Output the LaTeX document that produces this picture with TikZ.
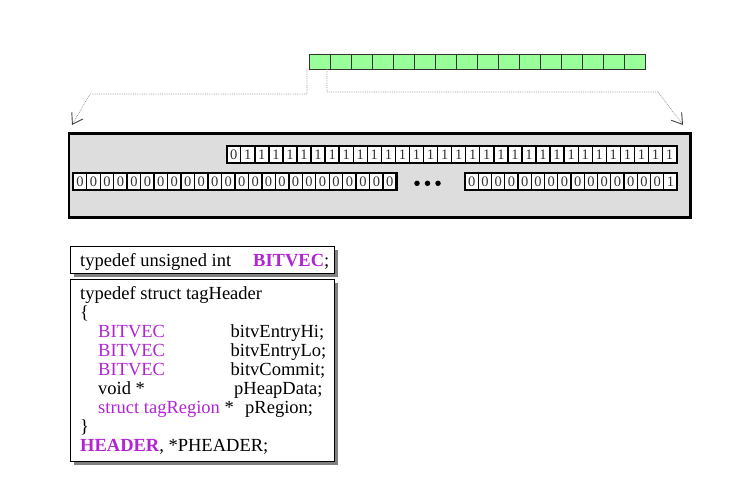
\documentclass[tikz,border=0pt]{standalone}
\usepackage{fontspec}
\setmainfont{Liberation Serif}
\usetikzlibrary{positioning,arrows.meta,calc,shadows}
\definecolor{vio}{RGB}{178,36,212}
\definecolor{cellgreen}{RGB}{153,255,153}
\definecolor{panelgray}{RGB}{221,221,221}

\begin{document}
\begin{tikzpicture}[x=1pt,y=-1pt,
  gcell/.style={draw=black!80,fill=cellgreen,line width=0.9pt,outer sep=0pt,inner sep=0pt,minimum width=21pt,minimum height=15pt},
  bitcell/.style={draw,fill=white,line width=1.4pt,outer sep=0pt,inner sep=0pt,minimum width=#1,minimum height=16.7pt,font=\fontsize{14.5}{14.5}\selectfont,text=black!80},
  row/.style={draw,line width=2.2pt},
  panel/.style={draw,line width=2.5pt,fill=panelgray,anchor=north west},
  dotmark/.style={circle,fill=black,inner sep=0pt,minimum size=5.5pt},
  link/.style={densely dotted,draw=black!40,line width=0.8pt,-{Straight Barb[length=10pt,width=13pt,color=black!75,line width=0.9pt]}},
  codebox/.style={draw,line width=1.2pt,fill=white,anchor=north west,minimum width=264pt,drop shadow={shadow xshift=3pt,shadow yshift=-3pt,fill=black!50,opacity=1}},
  code/.style={anchor=base west,inner sep=0pt,font=\fontsize{18.5}{19}\selectfont}]
  \useasboundingbox (0,0) rectangle (735,479);

  % green vector
  \node[gcell,anchor=north west] (g1) at (309,54) {};
  \foreach \i [remember=\i as \prev (initially 1)] in {2,...,16}
    \node[gcell,right=0pt of g\prev] (g\i) {};

  % dotted leads
  \coordinate (bendL) at (90,94);
  \coordinate (tipL) at (72,125);
  \coordinate (bendR) at (658,92);
  \coordinate (tipR) at (683,125);
  \draw[link] ($(g1.south west)+(-2,0)$) |- (bendL) -- (tipL);
  \draw[link] ($(g1.south east)+(-3,0)$) |- (bendR) -- (tipR);

  % bit panel
  \node[panel,minimum width=621.5pt,minimum height=84pt] (panel) at (67.5,132) {};

  \node[bitcell=14.06pt,anchor=north west] (t1) at (226.7,146) {0};
  \foreach \i [remember=\i as \prev (initially 1)] in {2,...,32}
    \node[bitcell=14.06pt,right=0pt of t\prev] (t\i) {1};
  \draw[row] (t1.north west) rectangle (t32.south east);

  \node[bitcell=13.47pt,anchor=north west] (a1) at (73.3,173.3) {0};
  \foreach \i [remember=\i as \prev (initially 1)] in {2,...,24}
    \node[bitcell=13.47pt,right=0pt of a\prev] (a\i) {0};
  \draw[row] (a1.north west) rectangle (a24.south east);

  \node[bitcell=13.25pt,anchor=north west] (b1) at (465,173.3) {0};
  \foreach \i [remember=\i as \prev (initially 1)] in {2,...,16}
    \node[bitcell=13.25pt,right=0pt of b\prev] (b\i) {\ifnum\i=16 1\else 0\fi};
  \draw[row] (b1.north west) rectangle (b16.south east);

  \foreach \k/\x in {1/417,2/427.5,3/438}
    \node[dotmark] (dot\k) at (\x,183.3) {};

  % typedef boxes
  \node[codebox,minimum height=27pt] (tdefbox) at (70,246) {};
  \node[code] (tdef) at (80,266.5) {typedef unsigned int};
  \node[code] (tname) at (253,266.5) {\textcolor{vio}{\bfseries BITVEC};};

  \node[codebox,minimum height=182pt] (hdrbox) at (70,279) {};
  \node[code] (hdr) at (80,299.5) {typedef struct tagHeader};
  \node[code] (lbr) at (80,318.3) {\{};
  \node[code,text=vio] (hi) at (98,337.3) {BITVEC};
  \node[code] (hiN) at (230.5,337.3) {bitvEntryHi;};
  \node[code,text=vio] (lo) at (98,356.3) {BITVEC};
  \node[code] (loN) at (230.5,356.3) {bitvEntryLo;};
  \node[code,text=vio] (cm) at (98,375.3) {BITVEC};
  \node[code] (cmN) at (230.5,375.3) {bitvCommit;};
  \node[code] (heap) at (98,394.3) {void *};
  \node[code] (heapN) at (234,394.3) {pHeapData;};
  \node[code] (reg) at (98,413) {\textcolor{vio}{struct tagRegion} *};
  \node[code] (regN) at (245,413) {pRegion;};
  \node[code] (rbr) at (80,432) {\}};
  \node[code] (tend) at (80,451) {\textcolor{vio}{\bfseries HEADER}, *PHEADER;};
\end{tikzpicture}
\end{document}
